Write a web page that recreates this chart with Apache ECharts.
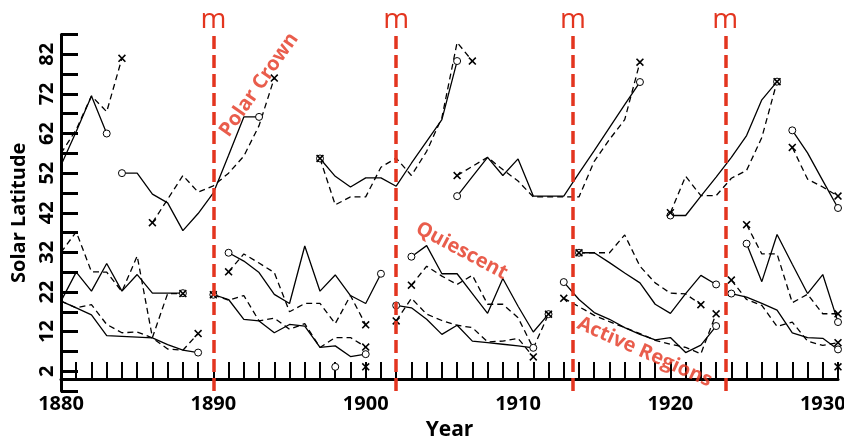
<!DOCTYPE html>
<html lang="en">
<head>
<meta charset="UTF-8">
<title>Solar Latitude</title>
<script src="https://cdn.jsdelivr.net/npm/echarts@6/dist/echarts.min.js"></script>
<style>
    *{margin:0;padding:0;}
    body{background:#fff;overflow:hidden;}
    #main{width:844px;height:441px;}
</style>
</head>
<body>
<div id="main"></div>
<script>
    // yearly latitudes, solid = circle ends, dashed = x ends
    // polar crown branches
    var polarA_s = [54, 62.5, 71.5, 62];                        // from 1880
    var polarA_d = [57, 63, 71.5, 67.5, 81];                    // from 1880
    var polarB_s = [52, 52, 46.7, 44.5, 37.5, 41.8, 47, 56.5, 66.2, 66.2];   // from 1884
    var polarB_d = [39.5, 45.4, 51.4, 47.2, 48.8, 52, 56.3, 64, 76];         // from 1886
    var polarC_s = [55.7, 51.2, 48.5, 50.8, 50.8, 48.7, 54.5, 60, 65.5, 80.3];     // from 1897
    var polarC_d = [55.7, 44, 46, 46, 53.5, 55.8, 51.4, 57.5, 66, 85, 80.3];       // from 1897
    var polarD_s = [46.2, 51.1, 56, 51.4, 55.6, 46.2, 46.2, 46.2, 52, 57.7, 63.5, 69.3, 75];  // from 1906
    var polarD_d = [51.4, 53.7, 56, 52.9, 50, 46, 46, 46, 46, 55, 60.5, 65.5, 80];            // from 1906
    var polarE_s = [41.3, 41.3, 46.2, 51, 56, 61.5, 70.5, 75.1];   // from 1920
    var polarE_d = [42, 51.2, 46.3, 46.3, 50.7, 52.7, 61, 75.1];   // from 1920
    var polarF_s = [62.8, 57.1, 50.1, 43.2];   // from 1928
    var polarF_d = [58.5, 50.5, 48.5, 46.2];   // from 1928

    // quiescent branches
    var quietA_s = [19.7, 27, 22.2, 29.2, 22.2, 26.4, 21.7, 21.7, 21.7];   // from 1880
    var quietA_d = [32, 37.2, 27.1, 27, 22.1, 31.1, 10.5, 21.6, 21.6];     // from 1880
    var quietB_s = [31.9, 29.8, 26.9, 21.4, 19.1, 33.6, 22.2, 26.3, 21.1, 19.1, 26.6];  // from 1891
    var quietB_d = [27.1, 31.6, 29.3, 26.9, 17, 19.1, 19.1, 14, 21.1, 13.7];           // from 1891
    var quietC_s = [30.9, 33.7, 26.6, 26.6, 21.6, 16.6, 25.4, 18.4, 11.9, 16.4];  // from 1903
    var quietC_d = [23.7, 28.5, 26, 23.9, 26.2, 18.9, 18.9, 15.5, 7.8, 16.4];     // from 1903
    var quietD_s = [31.9, 31.9, 29.4, 26.8, 24.3, 18.9, 16.6, 21.6, 26.2, 23.9];  // from 1914
    var quietD_d = [31.9, 31.9, 31.9, 36.4, 28.5, 24.3, 21.7, 21.5, 18.8];        // from 1914
    var quietE_s = [34.2, 24.6, 36.5, 29, 21.6, 26.4, 14.4];   // from 1925
    var quietE_d = [39, 31.6, 31.6, 19.3, 21.4, 16.5, 16.5];   // from 1925

    // active region branches
    var activeA_s = [19.7, 18, 16.2, 11, 10.8, 10.6, 10.4, 8.7, 7.3, 6.7];     // from 1880
    var activeA_d = [19.7, 18, 18.8, 13.8, 11.7, 11.9, 10.4, 7.6, 7.3, 11.5];  // from 1880
    var activeB_s = [21.3, 20.1, 15.1, 14.7, 11.7, 13.8, 13.4, 8, 8.4, 5.7, 6.3];   // from 1890
    var activeB_d = [21.3, 19.9, 21.1, 14.7, 15.4, 12.6, 14, 8, 10.5, 10.5, 8.1];   // from 1890
    var activeC_s = [18.6, 18, 15.1, 11.3, 13.6, 9.6, 9.2, 8.8, 8.4, 7.9];       // from 1902
    var activeC_d = [14.7, 20.4, 16.4, 14.8, 13.6, 13, 9.4, 9.6, 10.3, 5.6];     // from 1902
    var activeD_s = [24.5, 20.1, 16.8, 15.1, 13, 11.3, 9.9, 10.5, 6.7, 8.6, 13.4];  // from 1913
    var activeD_d = [20.4, 18.3, 16.1, 14.5, 13, 11.5, 9.8, 8.8, 8, 6.4, 16.5];     // from 1913
    var activeE_s = [21.6, 20.7, 19.1, 17.4, 11.7, 10.5, 10.3, 7.5];   // from 1924
    var activeE_d = [25, 20.1, 18.6, 13.3, 14.4, 9.6, 8.5, 9.2];       // from 1924

    // lone points near the equator
    var loneCircles = [[1898, 3.1]];
    var loneCrosses = [[1900, 3.1], [1931, 3.1]];

    // sunspot minima
    var minima = [1890, 1902, 1913.6, 1923.6];

    var curves = [
        [1880, polarA_s, false], [1880, polarA_d, true],
        [1884, polarB_s, false], [1886, polarB_d, true],
        [1897, polarC_s, false], [1897, polarC_d, true],
        [1906, polarD_s, false], [1906, polarD_d, true],
        [1920, polarE_s, false], [1920, polarE_d, true],
        [1928, polarF_s, false], [1928, polarF_d, true],
        [1880, quietA_s, false], [1880, quietA_d, true],
        [1891, quietB_s, false], [1891, quietB_d, true],
        [1903, quietC_s, false], [1903, quietC_d, true],
        [1914, quietD_s, false], [1914, quietD_d, true],
        [1925, quietE_s, false], [1925, quietE_d, true],
        [1880, activeA_s, false], [1880, activeA_d, true],
        [1890, activeB_s, false], [1890, activeB_d, true],
        [1902, activeC_s, false], [1902, activeC_d, true],
        [1913, activeD_s, false], [1913, activeD_d, true],
        [1924, activeE_s, false], [1924, activeE_d, true]
    ];

    var RED = '#e3351f';
    var CROSS = 'path://M0,1.4L1.4,0L5,3.6L8.6,0L10,1.4L6.4,5L10,8.6L8.6,10L5,6.4L1.4,10L0,8.6L3.6,5Z';
    var FONT = 'Open Sans';
    var ringStyle = {color: '#fff', borderColor: '#000', borderWidth: 1, opacity: 1};
    var crossStyle = {color: '#000', borderWidth: 0, opacity: 1};

    var series = curves.map(function (c) {
        var start = c[0], vals = c[1], dashed = c[2];
        var last = vals.length - 1;
        var mk = dashed ? CROSS : 'circle';
        return {
            type: 'line',
            data: vals.map(function (v, i) { return [start + i, v]; }),
            showSymbol: true,
            showAllSymbol: true,
            symbol: function (value, params) {
                var i = params.dataIndex;
                if (i === last || (i === 0 && start > 1880)) return mk;
                return 'none';
            },
            symbolSize: dashed ? 8 : 7,
            itemStyle: dashed ? crossStyle : ringStyle,
            lineStyle: {color: '#000', width: 1.3, type: dashed ? [6, 4] : 'solid'},
            silent: true,
            z: 3
        };
    });

    series.push({
        type: 'scatter', data: loneCircles, symbol: 'circle', symbolSize: 7,
        itemStyle: ringStyle, silent: true
    });
    series.push({
        type: 'scatter', data: loneCrosses, symbol: CROSS, symbolSize: 8,
        itemStyle: crossStyle, silent: true,
        markLine: {
            silent: true,
            symbol: ['none', 'none'],
            lineStyle: {color: RED, width: 3.5, type: [13, 6]},
            label: {show: true, position: 'end', formatter: 'm', color: RED, fontSize: 28, fontFamily: FONT, distance: 0},
            data: minima.map(function (x) { return {xAxis: x}; })
        },
        z: 2
    });

    // red region labels
    var noteStyle = {show: true, position: 'inside', color: RED, fontSize: 20, fontWeight: 'bold', fontFamily: FONT};
    series.push({
        type: 'scatter', symbolSize: 0, silent: true, z: 5,
        label: noteStyle,
        data: [
            {value: [1893.0, 74.3], label: {formatter: 'Polar Crown', rotate: 55}},
            {value: [1906.3, 32.4], label: {formatter: 'Quiescent', rotate: -28}},
            {value: [1918.3, 6.8], label: {formatter: 'Active Regions', rotate: -24}}
        ]
    });

    var myChart = echarts.init(document.getElementById('main'));
    var option = {
        backgroundColor: '#fff',
        animation: false,
        grid: {left: 61, right: 6, top: 34.5, bottom: 50, containLabel: false, outerBoundsMode: 'none'},
        xAxis: {
            type: 'value', min: 1880, max: 1931, interval: 1,
            name: 'Year', nameLocation: 'middle', nameGap: 29,
            nameTextStyle: {color: '#000', fontSize: 21, fontWeight: 'bold', fontFamily: FONT},
            axisLine: {lineStyle: {color: '#000', width: 3}},
            axisTick: {inside: true, length: 17, lineStyle: {color: '#000', width: 2}},
            axisLabel: {
                color: '#000', fontSize: 20, fontWeight: 'bold', fontFamily: FONT, margin: 3,
                formatter: function (v) { return v % 10 === 0 ? String(v) : ''; }
            },
            splitLine: {show: false}
        },
        yAxis: {
            type: 'value', min: -3, max: 87, interval: 5,
            name: 'Solar Latitude', nameLocation: 'middle', nameGap: 29,
            nameTextStyle: {color: '#000', fontSize: 20, fontWeight: 'bold', fontFamily: FONT},
            axisLine: {lineStyle: {color: '#000', width: 3}},
            axisTick: {inside: true, length: 17, lineStyle: {color: '#000', width: 3}},
            axisLabel: {
                color: '#000', fontSize: 20, fontWeight: 'bold', fontFamily: FONT, rotate: 90, margin: 4,
                formatter: function (v) { return (v - 2) % 10 === 0 ? String(v) : ''; }
            },
            splitLine: {show: false}
        },
        series: series
    };
    myChart.setOption(option);
</script>
</body>
</html>
